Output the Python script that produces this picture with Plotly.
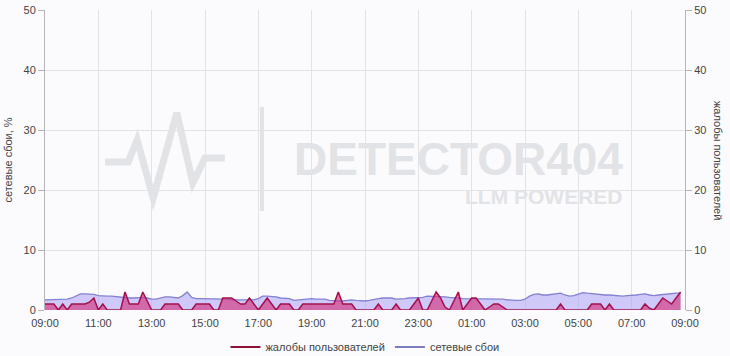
import pandas as pd
import plotly.graph_objects as go

# ---- data (10-minute samples from 09:00 to 08:50 next day) ----
times = pd.date_range("2024-01-01 09:00", periods=144, freq="10min")

complaints = [
    1, 1, 1, 0, 1, 0, 1, 1, 1, 1, 1.3, 2,
    0, 1, 0, 0, 0, 0, 3, 1, 1, 1, 3, 1.5,
    0, 0, 0, 1, 1, 1, 1, 0, 0, 0, 1, 1,
    1, 1, 0, 0, 2, 2, 2, 1.5, 1, 1, 2, 1,
    0, 1, 2, 1, 0, 1, 1, 1, 0, 0, 1, 1,
    1, 1, 1, 1, 1, 1, 3, 1, 1, 1, 0, 0,
    0, 0, 0, 1, 0, 0, 0, 1, 0, 0, 0, 1,
    2, 0, 0, 1.5, 3, 2, 0.5, 0, 1.5, 3, 0, 1,
    2, 2, 1, 0, 0.5, 1, 1, 0.5, 0, 0, 0, 0,
    0, 0, 0, 0, 0, 0, 0, 0, 1, 0, 0, 0,
    0, 0, 0, 1, 1, 1, 0, 1, 0, 0, 0, 0,
    0, 0, 0, 1, 0.3, 0, 1, 2, 1.5, 1, 2, 3,
]

network = [
    1.7, 1.7, 1.8, 1.8, 1.8, 1.8, 2.0, 2.4, 2.7, 2.7, 2.7, 2.6,
    2.4, 2.3, 2.3, 2.3, 2.2, 2.2, 2.1, 2.0, 2.0, 2.1, 2.1, 2.0,
    1.8, 1.8, 2.0, 2.2, 2.2, 2.1, 2.0, 2.4, 3.0, 2.1, 1.9, 1.9,
    1.9, 1.9, 1.9, 1.9, 1.8, 1.8, 1.7, 1.7, 1.8, 1.8, 1.7, 1.7,
    1.9, 2.3, 2.3, 2.3, 2.2, 2.0, 2.0, 1.9, 1.6, 1.7, 1.8, 1.8,
    1.9, 1.8, 1.8, 1.8, 1.6, 1.5, 1.5, 1.5, 1.6, 1.7, 1.6, 1.5,
    1.5, 1.6, 1.8, 1.9, 2.0, 2.0, 2.0, 1.8, 1.8, 1.9, 2.0, 2.0,
    2.0, 2.1, 2.3, 2.3, 2.3, 2.2, 2.2, 2.1, 2.1, 2.0, 1.9, 1.9,
    1.9, 1.9, 1.9, 1.9, 1.9, 1.8, 1.8, 1.8, 1.7, 1.6, 1.6, 1.6,
    1.8, 2.3, 2.6, 2.7, 2.5, 2.5, 2.6, 2.7, 2.8, 2.5, 2.3, 2.4,
    2.6, 2.9, 2.8, 2.7, 2.7, 2.6, 2.5, 2.5, 2.4, 2.3, 2.3, 2.4,
    2.4, 2.5, 2.6, 2.7, 2.5, 2.4, 2.5, 2.6, 2.6, 2.7, 2.8, 2.8,
]

series_names = ["жалобы пользователей", "сетевые сбои"]
left_title = "сетевые сбои, %"
right_title = "жалобы пользователей"
x_start, x_end = "2024-01-01 09:00", "2024-01-02 09:00"
y_ticks = [0, 10, 20, 30, 40, 50]

FONT = "Liberation Sans, Arial, sans-serif"
TXT = "#444444"
GRID = "#e3e3e3"
AXIS = "#b5b5b5"
WM = "#e2e3e6"

RED_LINE = "#a3104c"
RED_FILL = "rgba(212,55,130,0.66)"
PUR_LINE = "#8481d2"
PUR_FILL = "rgba(170,160,245,0.55)"

fig = go.Figure()

fig.add_trace(go.Scatter(
    x=times, y=network, name=series_names[1], yaxis="y",
    mode="lines", line=dict(color=PUR_LINE, width=1.3),
    fill="tozeroy", fillcolor=PUR_FILL, showlegend=False, hoverinfo="skip",
))
fig.add_trace(go.Scatter(
    x=times, y=complaints, name=series_names[0], yaxis="y2",
    mode="lines", line=dict(color=RED_LINE, width=1.5),
    fill="tozeroy", fillcolor=RED_FILL, showlegend=False, hoverinfo="skip",
))
# legend entries drawn as plain line samples
fig.add_trace(go.Scatter(x=[None], y=[None], name=series_names[0],
                         mode="lines", line=dict(color="#8e1238", width=2)))
fig.add_trace(go.Scatter(x=[None], y=[None], name=series_names[1],
                         mode="lines", line=dict(color="#7c7cc0", width=2)))

# watermark (decorative, paper coordinates)
pulse = [(0.094, 0.493), (0.130, 0.493), (0.144, 0.567), (0.169, 0.373),
         (0.206, 0.657), (0.231, 0.423), (0.250, 0.507), (0.281, 0.507)]
path = "M " + " L ".join(f"{a},{b}" for a, b in pulse)
shapes = [
    dict(type="path", xref="paper", yref="paper", path=path,
         line=dict(color=WM, width=7), layer="below"),
    dict(type="line", xref="paper", yref="paper", x0=0.339, x1=0.339,
         y0=0.33, y1=0.677, line=dict(color=WM, width=4), layer="below"),
]
annotations = [
    dict(text="DETECTOR404", xref="paper", yref="paper", x=0.907, y=0.505,
         xanchor="right", yanchor="middle", showarrow=False,
         font=dict(family=FONT, size=46, color=WM, weight=700)),
    dict(text="LLM POWERED", xref="paper", yref="paper", x=0.907, y=0.378,
         xanchor="right", yanchor="middle", showarrow=False,
         font=dict(family=FONT, size=21, color=WM, weight=700)),
    dict(text=right_title, xref="paper", yref="paper", x=1.0, xshift=33,
         y=0.5, xanchor="center", yanchor="middle", textangle=90,
         showarrow=False, font=dict(family=FONT, size=11, color=TXT)),
]

fig.update_layout(
    width=730, height=356,
    margin=dict(l=45, r=45, t=10, b=46, autoexpand=False),
    paper_bgcolor="#fbfbfd", plot_bgcolor="#fbfbfd",
    font=dict(family=FONT, size=11, color=TXT),
    showlegend=True,
    legend=dict(orientation="h", x=0.5, xanchor="center",
                yref="container", y=0.025, yanchor="middle",
                font=dict(size=11, color=TXT), itemwidth=30,
                bgcolor="rgba(0,0,0,0)"),
    xaxis=dict(type="date", range=[x_start, x_end], dtick=2 * 3600 * 1000,
               tick0=x_start, tickformat="%H:%M", showgrid=True,
               gridcolor=GRID, gridwidth=1, zeroline=False, showline=False,
               ticks="", ticklabelstandoff=5,
               tickfont=dict(size=11, color=TXT)),
    yaxis=dict(range=[0, 50], tickvals=y_ticks, showgrid=True,
               gridcolor=GRID, zeroline=False, showline=True,
               linecolor=AXIS, linewidth=1, ticks="outside", ticklen=6,
               tickcolor=AXIS, title=dict(text=left_title, standoff=8,
                                          font=dict(size=11, color=TXT))),
    yaxis2=dict(range=[0, 50], tickvals=y_ticks, overlaying="y",
                side="right", showgrid=False, zeroline=False,
                showline=True, linecolor=AXIS, linewidth=1,
                ticks="outside", ticklen=6, tickcolor=AXIS),
    shapes=shapes,
    annotations=annotations,
)

fig.write_html("out.html")
